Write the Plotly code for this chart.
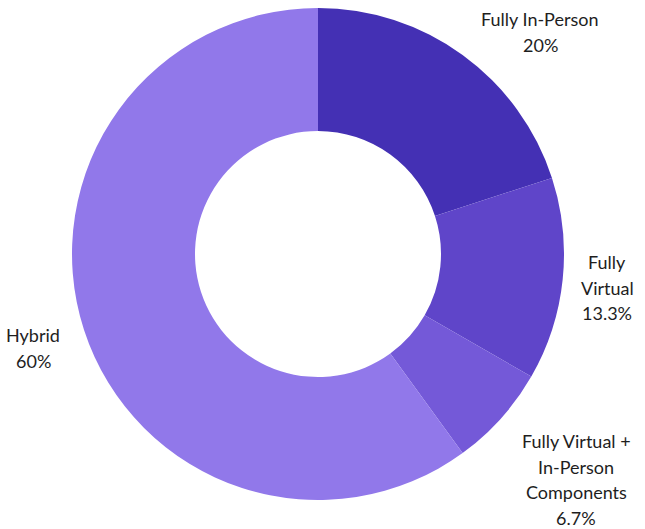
import plotly.graph_objects as go

labels = ["Fully In-Person", "Fully Virtual", "Fully Virtual + In-Person Components", "Hybrid"]
values = [20, 13.3, 6.7, 60]
value_text = ["20%", "13.3%", "6.7%", "60%"]
label_lines = [["Fully In-Person"], ["Fully", "Virtual"], ["Fully Virtual +", "In-Person", "Components"], ["Hybrid"]]
colors = ["#4430B4", "#5F45C9", "#7459D8", "#9178EA"]

W, H = 645, 529
# label block positions (pixel centre x, first-line y)
label_pos = [(540, 19), (607, 262), (576, 441), (33, 335)]
line_gap = 25.7

fig = go.Figure(go.Pie(
    labels=labels, values=values, hole=0.5, sort=False, direction="clockwise", rotation=0,
    marker=dict(colors=colors, line=dict(color="white", width=0)),
    textinfo="none", hoverinfo="label+percent", showlegend=False,
    domain=dict(x=[(318 - 246) / W, (318 + 246) / W], y=[(275 - 246) / H, (275 + 246) / H]),
))

anns = []
for lines, vt, (px, py) in zip(label_lines, value_text, label_pos):
    for i, t in enumerate(lines + [vt]):
        anns.append(dict(x=px / W, y=1 - (py + i * line_gap) / H, xref="paper", yref="paper",
                         text=t, showarrow=False, xanchor="center", yanchor="middle",
                         font=dict(family="Lato", size=18, color="#1e1e1e")))

fig.update_layout(width=W, height=H, margin=dict(l=0, r=0, t=0, b=0),
                  paper_bgcolor="white", plot_bgcolor="white", annotations=anns)
fig.write_html("out.html", config={"displayModeBar": False},
               post_script="document.body.style.margin='0';document.body.style.overflow='hidden';")
